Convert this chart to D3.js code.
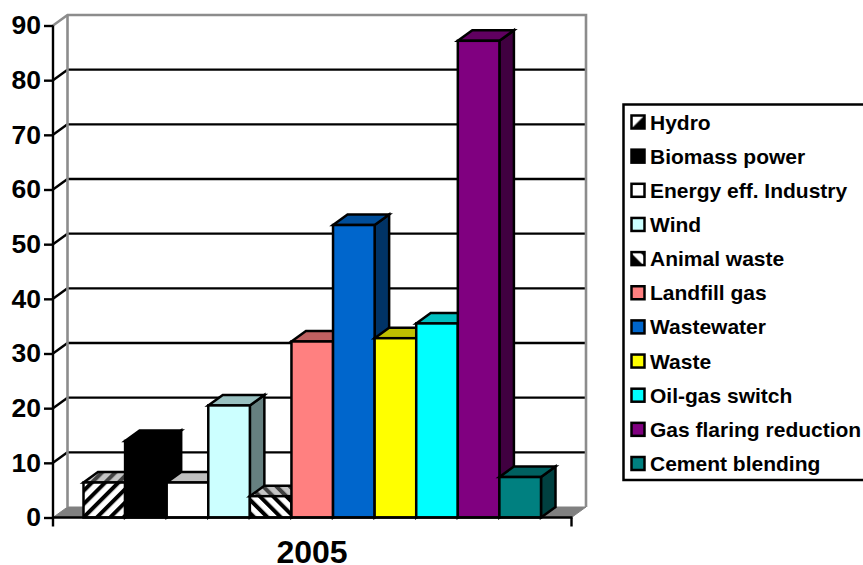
<!DOCTYPE html>
<html>
<head>
<meta charset="utf-8">
<script src="https://cdn.jsdelivr.net/npm/d3@7"></script>
<style>
  html, body { margin: 0; padding: 0; background: #fff; overflow: hidden; }
  text { font-family: "Liberation Sans", Arial, sans-serif; font-weight: bold; fill: #000; }
</style>
</head>
<body>
<svg id="chart" width="863" height="565"></svg>
<script>
const categories = ["Hydro", "Biomass power", "Energy eff. Industry", "Wind", "Animal waste",
  "Landfill gas", "Wastewater", "Waste", "Oil-gas switch", "Gas flaring reduction", "Cement blending"];
const values = [6.4, 14, 6.4, 20.5, 3.9, 32.2, 53.5, 32.8, 35.5, 87.2, 7.4];
const fills = ["url(#hatchUp)", "#000000", "#ffffff", "#ccffff", "url(#hatchDown)",
  "#ff8080", "#0066cc", "#ffff00", "#00ffff", "#800080", "#008080"];
const topFills = ["url(#hatchUpTop)", "#000000", "#bfbfbf", "#99c0c0", "url(#hatchDownTop)",
  "#bf6060", "#004d99", "#bfbf00", "#00bfbf", "#600060", "#006060"];
const sideFills = ["#808080", "#000000", "#808080", "#668080", "#808080",
  "#804040", "#003366", "#808000", "#008080", "#400040", "#004040"];
const yTicks = [0, 10, 20, 30, 40, 50, 60, 70, 80, 90];
const groupLabel = "2005";

const svg = d3.select("#chart");
const defs = svg.append("defs");

// Diagonal stripe fills for the two hatched series
function hatch(id, bg, fg, angle) {
  const p = defs.append("pattern").attr("id", id).attr("patternUnits", "userSpaceOnUse")
    .attr("width", 9.4).attr("height", 9.4).attr("patternTransform", `rotate(${angle})`);
  p.append("rect").attr("width", 9.4).attr("height", 9.4).attr("fill", bg);
  p.append("rect").attr("width", 4).attr("height", 9.4).attr("fill", fg);
}
hatch("hatchUp", "#fff", "#000", 45);
hatch("hatchDown", "#fff", "#000", -45);
hatch("hatchUpTop", "#c4c4c4", "#404040", 45);
hatch("hatchDownTop", "#c4c4c4", "#404040", -45);

// Half-filled legend keys for the hatched series
function halfKey(id, d) {
  const p = defs.append("pattern").attr("id", id).attr("patternUnits", "objectBoundingBox")
    .attr("patternContentUnits", "objectBoundingBox").attr("width", 1).attr("height", 1);
  p.append("rect").attr("width", 1).attr("height", 1).attr("fill", "#fff");
  p.append("path").attr("d", d).attr("fill", "#000");
}
halfKey("keyUp", "M0,1 L1,0 L1,1 Z");
halfKey("keyDown", "M0,0.1 L0.9,1 L0,1 Z M0.65,0 L1,0 L1,0.35 Z");
const legendFills = ["url(#keyUp)"].concat(fills.slice(1, 4), ["url(#keyDown)"], fills.slice(5));

// Oblique projection: depth shifts marks right and up
const depthX = 14.5, depthY = 10.5;
const y = d3.scaleLinear().domain([0, 90]).range([517.5, 25.5]);
const x = d3.scaleBand().domain(categories).range([83.5, 541]);
const frameX = d3.scaleBand().domain([groupLabel]).range([53, 571.5]);
const xL = frameX(groupLabel), xR = xL + frameX.bandwidth();

const poly = (pts) => "M" + pts.map(p => p.join(",")).join("L") + "Z";

// Floor
svg.append("path")
  .attr("d", poly([[xL, y(0)], [xR, y(0)], [xR + depthX, y(0) - depthY], [xL + depthX, y(0) - depthY]]))
  .attr("fill", "#808080").attr("stroke", "#808080").attr("stroke-width", 1);

// Back wall gridlines and their returns along the side wall
const gridTicks = yTicks.slice(1, -1);
svg.append("g").selectAll("line").data(gridTicks).join("line")
  .attr("x1", xL + depthX).attr("x2", xR + depthX)
  .attr("y1", d => y(d) - depthY).attr("y2", d => y(d) - depthY)
  .attr("stroke", "#000").attr("stroke-width", 2.4);
svg.append("g").selectAll("line").data(gridTicks).join("line")
  .attr("x1", xL).attr("x2", xL + depthX)
  .attr("y1", d => y(d)).attr("y2", d => y(d) - depthY)
  .attr("stroke", "#000").attr("stroke-width", 2.4);

// Wall outline
svg.append("path")
  .attr("d", `M${xL},${y(90)}L${xL + depthX},${y(90) - depthY}L${xR + depthX},${y(90) - depthY}L${xR + depthX},${y(0) - depthY}`)
  .attr("fill", "none").attr("stroke", "#8c8c8c").attr("stroke-width", 2.6);
svg.append("line")
  .attr("x1", xL + depthX).attr("x2", xL + depthX)
  .attr("y1", y(90) - depthY).attr("y2", y(0) - depthY)
  .attr("stroke", "#8c8c8c").attr("stroke-width", 2.6);

// Columns, painted left to right so each one overlaps its neighbour's side
const w = x.bandwidth();
const bars = svg.append("g").selectAll("g").data(categories).join("g");
const barStyle = (s) => s.attr("stroke", "#000").attr("stroke-width", 2.5).attr("stroke-linejoin", "miter");
bars.append("path").call(barStyle)
  .attr("fill", (d, i) => sideFills[i])
  .attr("d", (d, i) => {
    const r = x(d) + w, t = y(values[i]), b = y(0);
    return poly([[r, t], [r + depthX, t - depthY], [r + depthX, b - depthY], [r, b]]);
  });
bars.append("path").call(barStyle)
  .attr("fill", (d, i) => topFills[i])
  .attr("d", (d, i) => {
    const l = x(d), r = l + w, t = y(values[i]);
    return poly([[l, t], [r, t], [r + depthX, t - depthY], [l + depthX, t - depthY]]);
  });
bars.append("rect").call(barStyle)
  .attr("fill", (d, i) => fills[i])
  .attr("x", d => x(d)).attr("width", w)
  .attr("y", (d, i) => y(values[i]))
  .attr("height", (d, i) => y(0) - y(values[i]));

// Value axis
const yAxis = svg.append("g").attr("transform", `translate(${xL},0)`)
  .call(d3.axisLeft(y).tickValues(yTicks).tickSize(9).tickPadding(3).tickFormat(d3.format("d")));
yAxis.selectAll("path").remove();
yAxis.append("line").attr("y1", y(90)).attr("y2", y(0)).attr("stroke", "#000").attr("stroke-width", 2.4);
yAxis.selectAll(".tick line").attr("stroke", "#000").attr("stroke-width", 2.4);
yAxis.selectAll("text").style("font-size", "26.5px").style("font-family", "'Liberation Sans'").style("font-weight", "bold").attr("fill", "#000");

// Category axis with the outer ticks below the baseline
const xAxis = svg.append("g");
xAxis.append("line").attr("x1", xL - 1).attr("x2", xR + 1).attr("y1", y(0)).attr("y2", y(0))
  .attr("stroke", "#000").attr("stroke-width", 2.4);
xAxis.selectAll("line.edge").data([xL, xR]).join("line").attr("class", "edge")
  .attr("x1", d => d).attr("x2", d => d).attr("y1", y(0)).attr("y2", y(0) + 9)
  .attr("stroke", "#000").attr("stroke-width", 2.4);
svg.append("text").attr("x", 312).attr("y", 563)
  .attr("text-anchor", "middle").style("font-size", "32px").text(groupLabel);

// Legend
const legendY = d3.scalePoint().domain(categories).range([122, 463.5]);
svg.append("rect").attr("x", 623.5).attr("y", 104.5).attr("width", 260).attr("height", 375.5)
  .attr("fill", "#fff").attr("stroke", "#000").attr("stroke-width", 2.5);
const items = svg.append("g").selectAll("g").data(categories).join("g")
  .attr("transform", d => `translate(0,${legendY(d)})`);
items.append("rect").attr("x", 631.5).attr("y", -6.5).attr("width", 13).attr("height", 13)
  .attr("fill", (d, i) => legendFills[i]).attr("stroke", "#000").attr("stroke-width", 2.5);
items.append("text").attr("x", 650).attr("y", 7.5).style("font-size", "21px").text(d => d);
</script>
</body>
</html>
